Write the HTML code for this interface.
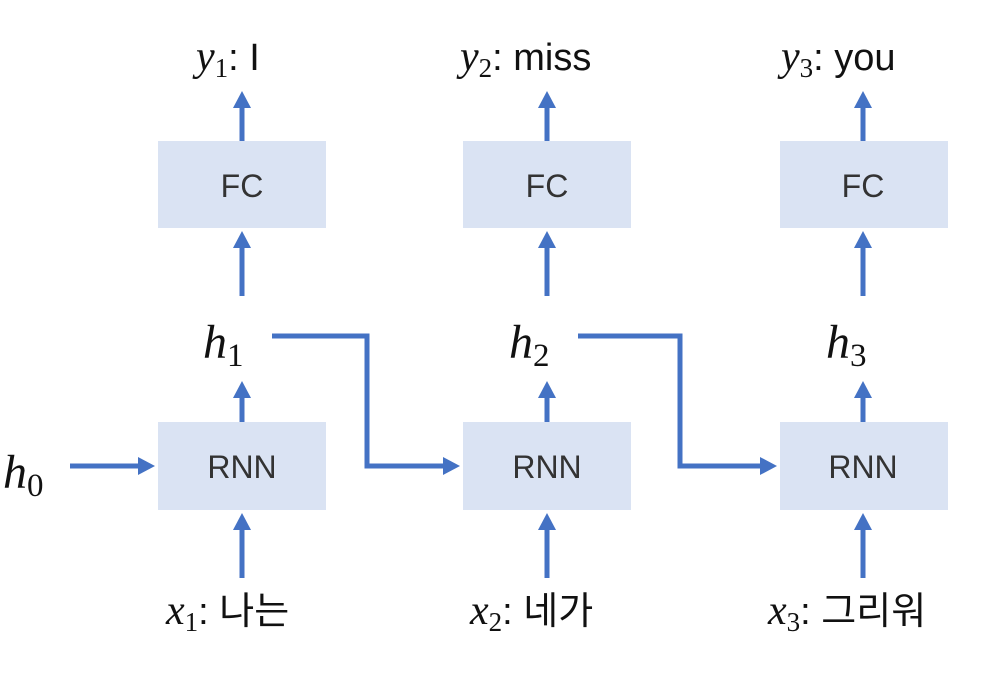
<!DOCTYPE html>
<html><head><meta charset="utf-8"><style>
body{margin:0;background:#fff;}
svg{display:block}
.m{font-family:"Liberation Serif","DejaVu Serif",serif;font-style:italic;}
.s{font-family:"Liberation Serif","DejaVu Serif",serif;font-style:normal;}
.t{font-family:"Liberation Sans","Noto Sans CJK KR",sans-serif;}
</style></head><body>
<svg width="1002" height="682" viewBox="0 0 1002 682">
<defs><marker id="a" markerWidth="4" markerHeight="4" refX="2.4" refY="2" orient="auto" markerUnits="strokeWidth"><path d="M0,0.2 L3.4,2 L0,3.8 Z" fill="#4472c4"/></marker></defs>
<g fill="#dae3f3">
<rect x="158" y="141" width="168" height="87"/><rect x="463" y="141" width="168" height="87"/><rect x="780" y="141" width="168" height="87"/>
<rect x="158" y="422" width="168" height="88"/><rect x="463" y="422" width="168" height="88"/><rect x="780" y="422" width="168" height="88"/>
</g>
<g class="t" font-size="32" fill="#333" text-anchor="middle">
<text x="242" y="197">FC</text><text x="547" y="197">FC</text><text x="863" y="197">FC</text>
<text x="242" y="478">RNN</text><text x="547" y="478">RNN</text><text x="863" y="478">RNN</text>
</g>
<g stroke="#4472c4" stroke-width="5" fill="none" marker-end="url(#a)">
<line x1="242" y1="141" x2="242" y2="96"/><line x1="547" y1="141" x2="547" y2="96"/><line x1="863" y1="141" x2="863" y2="96"/>
<line x1="242" y1="296" x2="242" y2="236"/><line x1="547" y1="296" x2="547" y2="236"/><line x1="863" y1="296" x2="863" y2="236"/>
<line x1="242" y1="422" x2="242" y2="386"/><line x1="547" y1="422" x2="547" y2="386"/><line x1="863" y1="422" x2="863" y2="386"/>
<line x1="242" y1="578" x2="242" y2="518"/><line x1="547" y1="578" x2="547" y2="518"/><line x1="863" y1="578" x2="863" y2="518"/>
<line x1="70" y1="466" x2="150" y2="466"/>
<polyline points="272,336 367,336 367,466 455,466"/>
<polyline points="578,336 680,336 680,466 772,466"/>
</g>
<g fill="#111" font-size="42">
<text x="196" y="70"><tspan class="m">y</tspan><tspan class="s" font-size="27" dy="7">1</tspan><tspan class="t" dy="-7" font-size="38">: I</tspan></text>
<text x="460" y="70"><tspan class="m">y</tspan><tspan class="s" font-size="27" dy="7">2</tspan><tspan class="t" dy="-7" font-size="38">: miss</tspan></text>
<text x="781" y="70"><tspan class="m">y</tspan><tspan class="s" font-size="27" dy="7">3</tspan><tspan class="t" dy="-7" font-size="38">: you</tspan></text>
<text x="203" y="358" class="m" font-size="48">h<tspan class="s" font-size="33" dy="8">1</tspan></text>
<text x="509" y="358" class="m" font-size="48">h<tspan class="s" font-size="33" dy="8">2</tspan></text>
<text x="826" y="358" class="m" font-size="48">h<tspan class="s" font-size="33" dy="8">3</tspan></text>
<text x="3" y="488" class="m" font-size="48">h<tspan class="s" font-size="33" dy="8">0</tspan></text>
<text x="166" y="624"><tspan class="m">x</tspan><tspan class="s" font-size="27" dy="7">1</tspan><tspan class="t" dy="-7" font-size="38">: 나는</tspan></text>
<text x="470" y="624"><tspan class="m">x</tspan><tspan class="s" font-size="27" dy="7">2</tspan><tspan class="t" dy="-7" font-size="38">: 네가</tspan></text>
<text x="768" y="624"><tspan class="m">x</tspan><tspan class="s" font-size="27" dy="7">3</tspan><tspan class="t" dy="-7" font-size="38">: 그리워</tspan></text>
</g>
</svg>
</body></html>
